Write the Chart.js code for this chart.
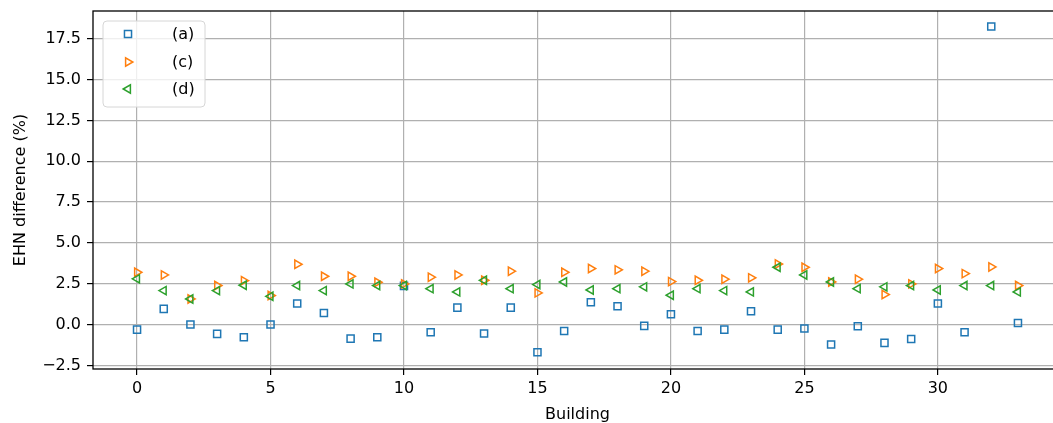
<!DOCTYPE html>
<html>
<head>
<meta charset="utf-8">
<script src="https://cdn.jsdelivr.net/npm/chart.js@4/dist/chart.umd.min.js"></script>
<style>
  html, body { margin: 0; padding: 0; overflow: hidden; background: #ffffff; }
  #wrap { width: 1070px; height: 423px; position: relative; }
</style>
</head>
<body>
<div id="wrap"><canvas id="chart" width="1070" height="423"></canvas></div>
<script>
// Building index on the x axis
const buildings = [0, 1, 2, 3, 4, 5, 6, 7, 8, 9, 10, 11, 12, 13, 14, 15, 16,
  17, 18, 19, 20, 21, 22, 23, 24, 25, 26, 27, 28, 29, 30, 31, 32, 33];

// EHN difference (%) per building for each case
const seriesA = [-0.31, 0.96, 0.00, -0.57, -0.78, 0.00, 1.29, 0.71, -0.86, -0.78,
  2.37, -0.47, 1.04, -0.55, 1.04, -1.69, -0.39, 1.37, 1.12, -0.08,
  0.63, -0.39, -0.31, 0.82, -0.31, -0.24, -1.22, -0.10, -1.12, -0.88,
  1.29, -0.47, 18.25, 0.10];
const seriesC = [3.20, 3.04, 1.57, 2.39, 2.69, 1.78, 3.69, 2.96, 2.96, 2.59,
  2.49, 2.90, 3.04, 2.71, 3.27, 1.94, 3.20, 3.43, 3.35, 3.27,
  2.63, 2.71, 2.78, 2.86, 3.71, 3.51, 2.61, 2.78, 1.84, 2.49,
  3.43, 3.12, 3.53, 2.39];
const seriesD = [2.80, 2.08, 1.57, 2.08, 2.41, 1.73, 2.39, 2.08, 2.49, 2.39,
  2.39, 2.20, 2.00, 2.71, 2.20, 2.45, 2.61, 2.12, 2.20, 2.31,
  1.80, 2.20, 2.08, 2.00, 3.51, 3.04, 2.61, 2.20, 2.31, 2.39,
  2.12, 2.39, 2.39, 2.00];

const seriesLabels = ['(a)', '(c)', '(d)'];

// Axis ticks
const xTickValues = [0, 5, 10, 15, 20, 25, 30];
const yTickValues = [-2.5, 0.0, 2.5, 5.0, 7.5, 10.0, 12.5, 15.0, 17.5];
const yTickLabels = ['\u22122.5', '0.0', '2.5', '5.0', '7.5', '10.0', '12.5', '15.0', '17.5'];

const FONT = 'DejaVu Sans';
const BLUE = '#1f77b4', ORANGE = '#ff7f0e', GREEN = '#2ca02c';

function pointsOf(values) {
  return buildings.map((b, i) => ({ x: b, y: values[i] }));
}

const markerStyles = [
  { pointStyle: 'rect', radius: 5, rotation: 0, color: BLUE },
  { pointStyle: 'triangle', radius: 4.8, rotation: 90, color: ORANGE },
  { pointStyle: 'triangle', radius: 4.8, rotation: -90, color: GREEN }
];

const allSeries = [seriesA, seriesC, seriesD];
const datasets = allSeries.map((vals, k) => ({
  label: seriesLabels[k],
  data: pointsOf(vals),
  pointStyle: markerStyles[k].pointStyle,
  pointRadius: markerStyles[k].radius,
  pointHoverRadius: markerStyles[k].radius,
  pointRotation: markerStyles[k].rotation,
  borderColor: markerStyles[k].color,
  backgroundColor: 'rgba(0,0,0,0)',
  pointBorderWidth: 1.5,
  showLine: false,
  order: 3 - k
}));

// Frame around the plotting area (all four spines)
const framePlugin = {
  id: 'frame',
  afterDatasetsDraw(chart) {
    const { ctx, chartArea: a } = chart;
    ctx.save();
    ctx.strokeStyle = '#000000';
    ctx.lineWidth = 1.3;
    ctx.strokeRect(a.left, a.top, a.right - a.left, a.bottom - a.top);
    ctx.restore();
  }
};

// Boxed legend in the upper-left corner of the plot
const legendBoxPlugin = {
  id: 'legendBox',
  afterDraw(chart) {
    const { ctx } = chart;
    const bx = 103, by = 21, bw = 102, bh = 86, r = 4;
    ctx.save();
    ctx.beginPath();
    ctx.moveTo(bx + r, by);
    ctx.lineTo(bx + bw - r, by);
    ctx.quadraticCurveTo(bx + bw, by, bx + bw, by + r);
    ctx.lineTo(bx + bw, by + bh - r);
    ctx.quadraticCurveTo(bx + bw, by + bh, bx + bw - r, by + bh);
    ctx.lineTo(bx + r, by + bh);
    ctx.quadraticCurveTo(bx, by + bh, bx, by + bh - r);
    ctx.lineTo(bx, by + r);
    ctx.quadraticCurveTo(bx, by, bx + r, by);
    ctx.closePath();
    ctx.fillStyle = 'rgba(255,255,255,0.8)';
    ctx.fill();
    ctx.strokeStyle = '#d6d6d6';
    ctx.lineWidth = 1;
    ctx.stroke();

    const rows = [34, 62, 89];
    chart.data.datasets.forEach((ds, k) => {
      const m = markerStyles[k];
      ctx.fillStyle = 'rgba(0,0,0,0)';
      ctx.strokeStyle = m.color;
      ctx.lineWidth = 1.5;
      Chart.helpers.drawPoint(ctx, {
        pointStyle: m.pointStyle, radius: m.radius, rotation: m.rotation, borderWidth: 1.5
      }, 128, rows[k]);
      ctx.fillStyle = '#000000';
      ctx.font = '16px "' + FONT + '"';
      ctx.textAlign = 'left';
      ctx.textBaseline = 'middle';
      ctx.fillText(ds.label, 172, rows[k] + 1);
    });
    ctx.restore();
  }
};

new Chart(document.getElementById('chart'), {
  type: 'scatter',
  data: { datasets },
  options: {
    responsive: false,
    devicePixelRatio: 1,
    animation: false,
    layout: { padding: { top: 11, right: 8, left: 0, bottom: 0 } },
    plugins: {
      legend: { display: false },
      tooltip: { enabled: false }
    },
    scales: {
      x: {
        type: 'linear',
        min: -1.65,
        max: 34.65,
        afterBuildTicks(scale) { scale.ticks = xTickValues.map(v => ({ value: v })); },
        afterFit(scale) {
          scale.height = 54;
          scale.paddingLeft = 0;
          scale.paddingRight = 0;
        },
        ticks: {
          font: { family: FONT, size: 16 },
          color: '#000000',
          padding: 4,
          maxRotation: 0,
          autoSkip: false,
          callback: v => String(v)
        },
        grid: {
          color: '#b0b0b0',
          lineWidth: 1.2,
          drawTicks: true,
          tickLength: 6,
          tickColor: '#000000',
          tickWidth: 1.2
        },
        border: { display: false },
        title: {
          display: true,
          text: 'Building',
          color: '#000000',
          font: { family: FONT, size: 16, lineHeight: 1 },
          padding: { top: 0, bottom: 0.6 }
        }
      },
      y: {
        type: 'linear',
        min: -2.72,
        max: 19.2,
        afterBuildTicks(scale) { scale.ticks = yTickValues.map(v => ({ value: v })); },
        afterFit(scale) {
          scale.width = 93;
          scale.paddingTop = 0;
          scale.paddingBottom = 0;
        },
        ticks: {
          font: { family: FONT, size: 16 },
          color: '#000000',
          padding: 6,
          autoSkip: false,
          callback: (v) => {
            const i = yTickValues.indexOf(v);
            return i >= 0 ? yTickLabels[i] : '';
          }
        },
        grid: {
          color: '#b0b0b0',
          lineWidth: 1.2,
          drawTicks: true,
          tickLength: 6,
          tickColor: '#000000',
          tickWidth: 1.2
        },
        border: { display: false },
        title: {
          display: true,
          text: 'EHN difference (%)',
          color: '#000000',
          font: { family: FONT, size: 16, lineHeight: 1 },
          padding: { top: 12.4, bottom: 0 }
        }
      }
    }
  },
  plugins: [framePlugin, legendBoxPlugin]
});
</script>
</body>
</html>
